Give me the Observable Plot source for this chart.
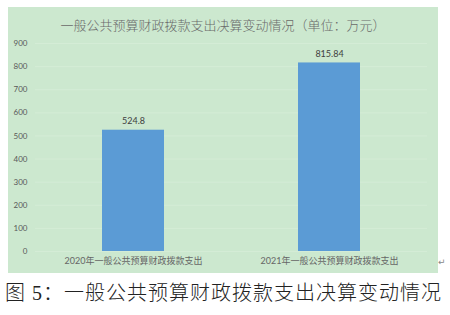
<!DOCTYPE html>
<html>
<head>
<meta charset="utf-8">
<script src="https://cdn.jsdelivr.net/npm/d3@7"></script>
<script src="https://cdn.jsdelivr.net/npm/@observablehq/plot@0.6"></script>
<style>
  body { margin: 0; background: #ffffff; width: 450px; height: 315px; position: relative; overflow: hidden; }
  #panel { position: absolute; left: 8px; top: 7px; width: 430px; height: 266px; background: #cce8cf; }
  #title { position: absolute; left: 0; width: 430px; top: 10px; text-align: center;
           font-family: "Noto Sans CJK SC", sans-serif; font-weight: 300; font-size: 13px; color: #6a6a6a; line-height: 16px; }
  #chart { position: absolute; left: 0; top: 28px; }
  #caption { position: absolute; left: 5px; top: 280px; font-family: "Liberation Serif", "Noto Sans CJK SC", serif;
             font-weight: 300; font-size: 20px; line-height: 26px; color: #222; letter-spacing: 1px; white-space: nowrap; }
  #mark { position: absolute; left: 438px; top: 257px; font-size: 9px; color: #888; font-family: "DejaVu Sans", sans-serif; }
</style>
</head>
<body>
<div id="panel">
  <div id="title"></div>
  <div id="chart"></div>
</div>
<div id="caption"></div>
<div id="mark">↵</div>
<script>
const titleText = "一般公共预算财政拨款支出决算变动情况（单位：万元）";
const captionText = "图 5：一般公共预算财政拨款支出决算变动情况";
const categories = ["2020年一般公共预算财政拨款支出", "2021年一般公共预算财政拨款支出"];
const values = [524.8, 815.84];
const valueLabels = ["524.8", "815.84"];
const yTicks = [0, 100, 200, 300, 400, 500, 600, 700, 800, 900];

document.getElementById("title").textContent = titleText;
document.getElementById("caption").textContent = captionText;

const data = categories.map((c, i) => ({cat: c, value: values[i], label: valueLabels[i]}));

const chart = Plot.plot({
  width: 430,
  height: 238,
  marginTop: 8,
  marginBottom: 22,
  marginLeft: 27,
  marginRight: 11,
  style: { background: "transparent", fontFamily: "Lato, 'Noto Sans CJK SC', sans-serif", color: "#595959" },
  x: { domain: categories, paddingInner: 0.684, paddingOuter: 0.342, label: null },
  y: { domain: [0, 900], label: null },
  marks: [
    Plot.ruleY(yTicks, { stroke: "#d4ecd6", strokeWidth: 1 }),
    Plot.barY(data, { x: "cat", y: "value", fill: "#5b9bd5" }),
    Plot.text(data, { x: "cat", y: "value", text: "label", dy: -9, fill: "#404040", fontSize: 9 }),
    Plot.axisY({ ticks: yTicks, tickSize: 0, tickPadding: 8, fontSize: 8, label: null, fill: "#595959" }),
    Plot.axisX({ tickSize: 0, tickPadding: 6, fontSize: 9, label: null, fill: "#666666" })
  ]
});
document.getElementById("chart").appendChild(chart);
</script>
</body>
</html>
